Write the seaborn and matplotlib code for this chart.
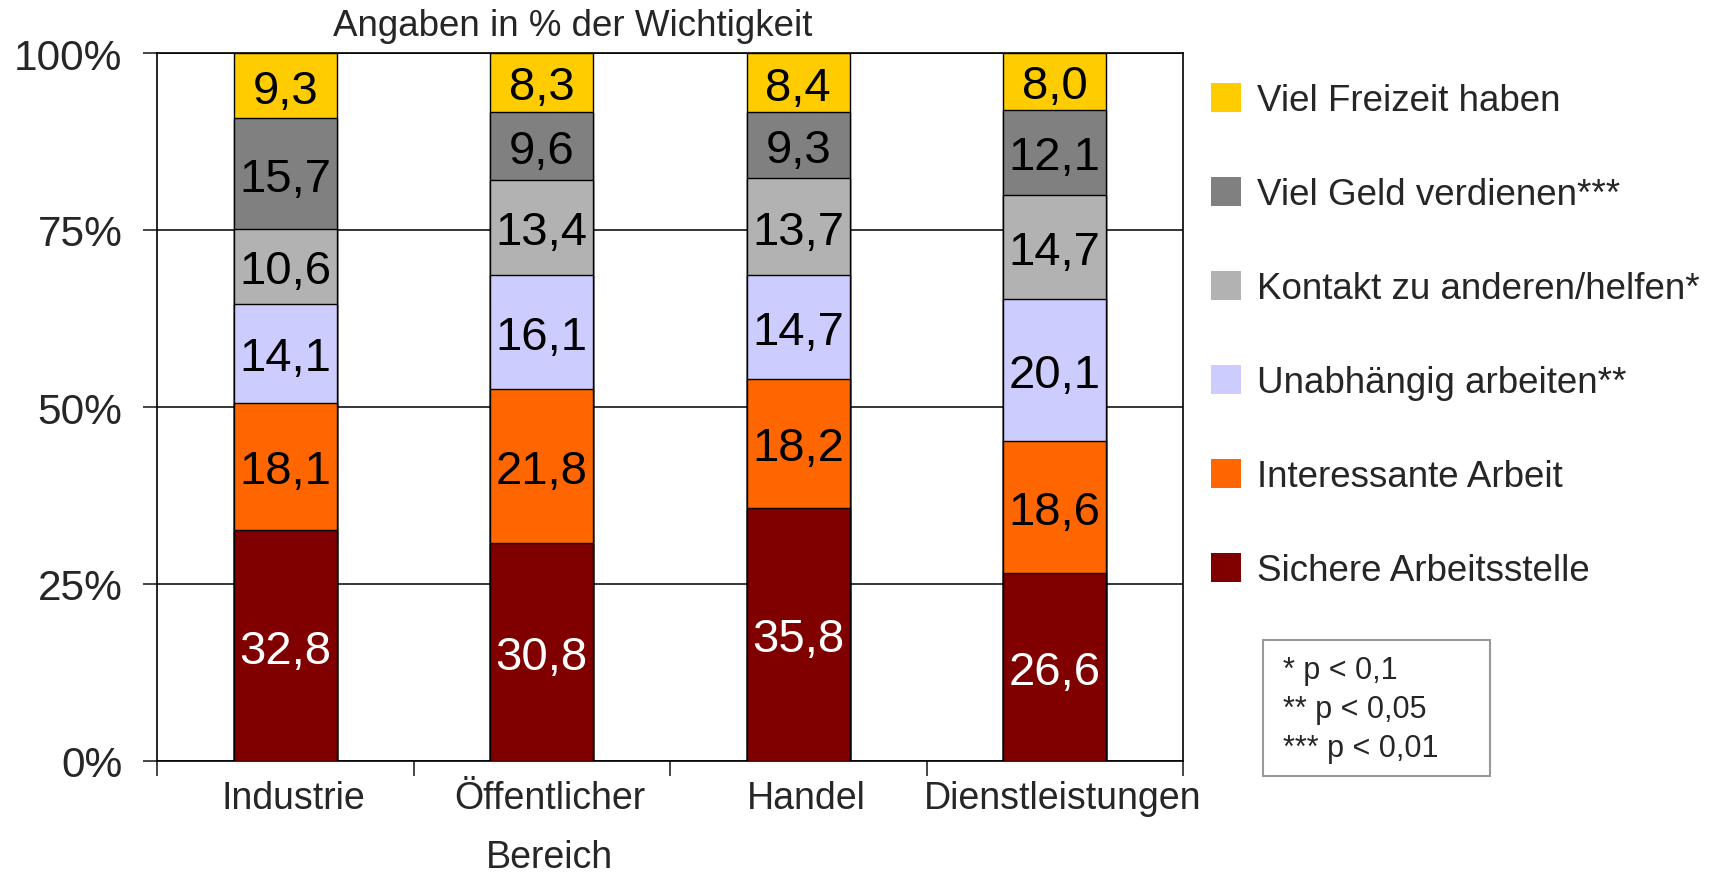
import numpy as np
import pandas as pd
import matplotlib.pyplot as plt
import matplotlib.transforms as mtransforms
import seaborn as sns
from matplotlib.patches import Patch, Rectangle

# Kategorien (x-Achse)
bereiche = ["Industrie", "Öffentlicher\nBereich", "Handel", "Dienstleistungen"]

# Berufsziele von unten nach oben gestapelt
ziele = ["Sichere Arbeitsstelle", "Interessante Arbeit", "Unabhängig arbeiten**",
         "Kontakt zu anderen/helfen*", "Viel Geld verdienen***", "Viel Freizeit haben"]

sichere = [32.8, 30.8, 35.8, 26.6]
interessant = [18.1, 21.8, 18.2, 18.6]
unabhaengig = [14.1, 16.1, 14.7, 20.1]
kontakt = [10.6, 13.4, 13.7, 14.7]
geld = [15.7, 9.6, 9.3, 12.1]
freizeit = [9.3, 8.3, 8.4, 8.0]

farben = ["#800000", "#FF6600", "#CCCCFF", "#B2B2B2", "#808080", "#FFCC00"]
hinweise = ["* p < 0,1", "** p < 0,05", "*** p < 0,01"]
yticks = [0, 25, 50, 75, 100]

# Long-Format mit kumulierten Anteilen (auf 100 % normiert)
werte = np.array([sichere, interessant, unabhaengig, kontakt, geld, freizeit])
anteile = werte / werte.sum(axis=0) * 100
oben = anteile.cumsum(axis=0)
mitte = oben - anteile / 2

df = pd.DataFrame({
    "Bereich": np.tile(bereiche, len(ziele)),
    "Ziel": np.repeat(ziele, len(bereiche)),
    "Wert": werte.ravel(),
    "Oben": oben.ravel(),
    "Mitte": mitte.ravel(),
})

sns.set_style("white")
plt.rcParams["font.family"] = ["Liberation Sans", "DejaVu Sans"]

fig = plt.figure(figsize=(17.27, 8.78), dpi=100)
ax = fig.add_axes([157 / 1727, 1 - 762 / 878, (1183 - 157) / 1727, (762 - 54) / 878])

# gestapelte Balken: kumulierte Summen von oben nach unten übereinander zeichnen
for k in reversed(range(len(ziele))):
    sns.barplot(data=df[df["Ziel"] == ziele[k]], x="Bereich", y="Oben", order=bereiche,
                color=farben[k], saturation=1, width=0.4, errorbar=None,
                edgecolor="black", linewidth=1, ax=ax, zorder=3)

# Werte in die Segmente schreiben
for _, row in df.iterrows():
    i = bereiche.index(row["Bereich"])
    txt = f"{row['Wert']:.1f}".replace(".", ",")
    col = "white" if row["Ziel"] == ziele[0] else "black"
    ax.text(i, row["Mitte"], txt, ha="center", va="center_baseline", fontsize=34,
            color=col, zorder=5)

ax.set_xlabel("")
ax.set_ylabel("")
ax.set_xlim(-0.5, len(bereiche) - 0.5)
ax.set_ylim(0, 100)

ax.set_yticks(yticks)
ax.set_yticklabels([f"{v}%" for v in yticks])
ax.tick_params(axis="y", length=10, width=1.2, direction="out", pad=15, labelsize=30.5, left=True)
ax.yaxis.grid(True, color="black", linewidth=1.1)
ax.set_axisbelow(True)

ax.set_xticks(np.arange(-0.5, len(bereiche), 1))
ax.set_xticklabels([])
ax.set_xticks(range(len(bereiche)), minor=True)
ax.set_xticklabels(bereiche, minor=True)
ax.tick_params(axis="x", which="major", length=11, width=1.2, direction="out", bottom=True)
ax.tick_params(axis="x", which="minor", length=0, pad=14, labelsize=27)
shift = mtransforms.ScaledTranslation(8 / 100, 0, fig.dpi_scale_trans)
for lab in ax.get_xticklabels(minor=True):
    lab.set_linespacing(1.8)
    lab.set_transform(lab.get_transform() + shift)

for sp in ax.spines.values():
    sp.set_color("black")
    sp.set_linewidth(1.2)

fig.text(573 / 1727, 1 - 27 / 878, "Angaben in % der Wichtigkeit",
         ha="center", va="center", fontsize=26.5)

handles = [Patch(facecolor=farben[k], edgecolor="none", label=ziele[k])
           for k in reversed(range(len(ziele)))]
ax.legend(handles=handles, loc="upper left", bbox_to_anchor=(1211 / 1727, 1 - 84 / 878),
          bbox_transform=fig.transFigure, frameon=False, fontsize=26.5,
          handlelength=0.82, handleheight=0.82, handletextpad=0.43,
          labelspacing=1.6, borderpad=0, borderaxespad=0)

# Signifikanz-Hinweise im Kasten
fig.add_artist(Rectangle((1263 / 1727, 1 - 777 / 878), (1490 - 1263) / 1727, (777 - 641) / 878,
                         transform=fig.transFigure, facecolor="white",
                         edgecolor="#999999", linewidth=1.5))
fig.text(1283 / 1727, 1 - 710 / 878, "\n".join(hinweise), ha="left", va="center",
         fontsize=22, linespacing=1.38)

fig.savefig("out.png", dpi=100)
